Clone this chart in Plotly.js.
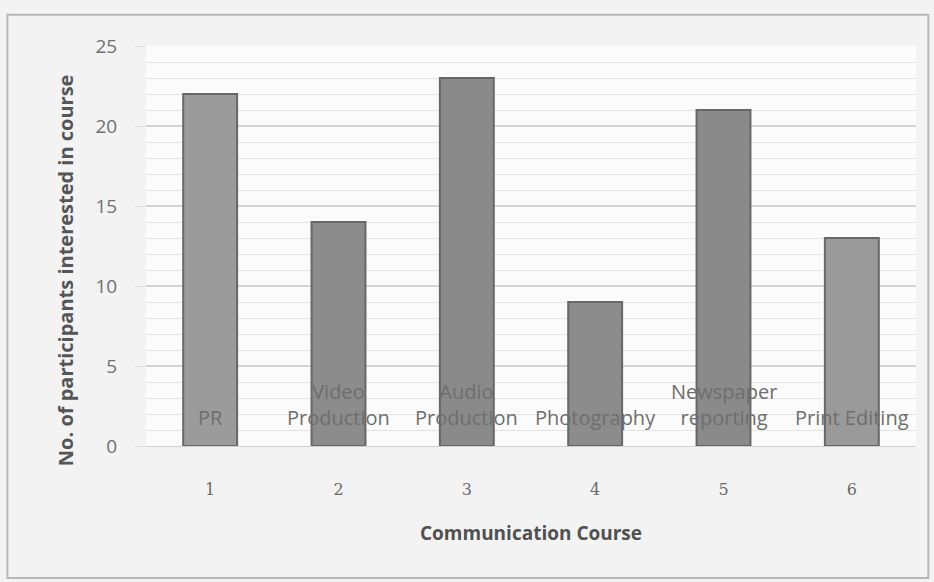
<!DOCTYPE html>
<html>
<head>
<meta charset="utf-8">
<script src="https://cdn.plot.ly/plotly-3.0.1.min.js"></script>
<style>html,body{margin:0;padding:0;background:#f3f3f3;}#chart{width:934px;height:582px;}</style>
</head>
<body>
<div id="chart"></div>
<script>
const courseNumbers = [1, 2, 3, 4, 5, 6];
const courseNames = ["PR", "Video<br>Production", "Audio<br>Production", "Photography", "Newspaper<br>reporting", "Print Editing"];
const participants = [22, 14, 23, 9, 21, 13];
const yTicks = [0, 5, 10, 15, 20, 25];

const FONT = "Open Sans, Lato, sans-serif";

const trace = {
  type: "bar",
  x: courseNumbers,
  y: participants,
  marker: {
    color: ["#9b9b9b", "#8c8c8c", "#8a8a8a", "#8c8c8c", "#8a8a8a", "#9a9a9a"],
    line: {color: "#676767", width: 2}
  },
  hoverinfo: "x+y"
};

const annotations = courseNumbers.map((n, i) => ({
  x: n, y: 0.8, xref: "x", yref: "y",
  text: courseNames[i],
  showarrow: false,
  yanchor: "bottom",
  align: "center",
  font: {family: FONT, size: 20, color: "#6e6e6e"}
}));

annotations.push({
  xref: "paper", yref: "paper",
  x: -0.105, y: (446 - 270) / 400,
  xanchor: "center", yanchor: "middle",
  textangle: -90,
  showarrow: false,
  text: "<b>No. of participants interested in course</b>",
  font: {family: FONT, size: 20, color: "#555555"}
});

const layout = {
  width: 934, height: 582,
  margin: {l: 146, r: 18, t: 46, b: 136},
  paper_bgcolor: "#f3f3f3",
  plot_bgcolor: "#fbfbfb",
  showlegend: false,
  bargap: 0.58,
  xaxis: {
    range: [0.5, 6.5],
    tickvals: courseNumbers,
    ticktext: courseNumbers.map(String),
    showgrid: false, zeroline: false, showline: false,
    ticks: "",
    ticklabelstandoff: 32,
    tickfont: {family: "DejaVu Serif, serif", size: 16, color: "#6a6a6a"},
    title: {text: "<b>Communication Course</b>", font: {family: FONT, size: 19, color: "#505050"}, standoff: 28}
  },
  yaxis: {
    range: [0, 25],
    tickvals: yTicks,
    ticktext: yTicks.map(String),
    showgrid: true, gridcolor: "#d4d4d4", gridwidth: 1.5,
    minor: {dtick: 1, showgrid: true, gridcolor: "#e4e4e4", gridwidth: 1},
    zeroline: true, zerolinecolor: "#cfcfcf",
    showline: false,
    ticks: "outside", ticklen: 10, tickcolor: "#dcdcdc",
    ticklabelstandoff: 14,
    tickfont: {family: FONT, size: 19, color: "#707070"}
  },
  annotations: annotations,
  shapes: [
    {type: "rect", xref: "paper", yref: "paper", x0: -0.18, x1: 1.016, y0: -0.33, y1: 1.078,
     line: {color: "#b8b8b8", width: 2}, fillcolor: "rgba(0,0,0,0)", layer: "below"}
  ]
};

Plotly.newPlot("chart", [trace], layout, {displayModeBar: false, staticPlot: true});
</script>
</body>
</html>
